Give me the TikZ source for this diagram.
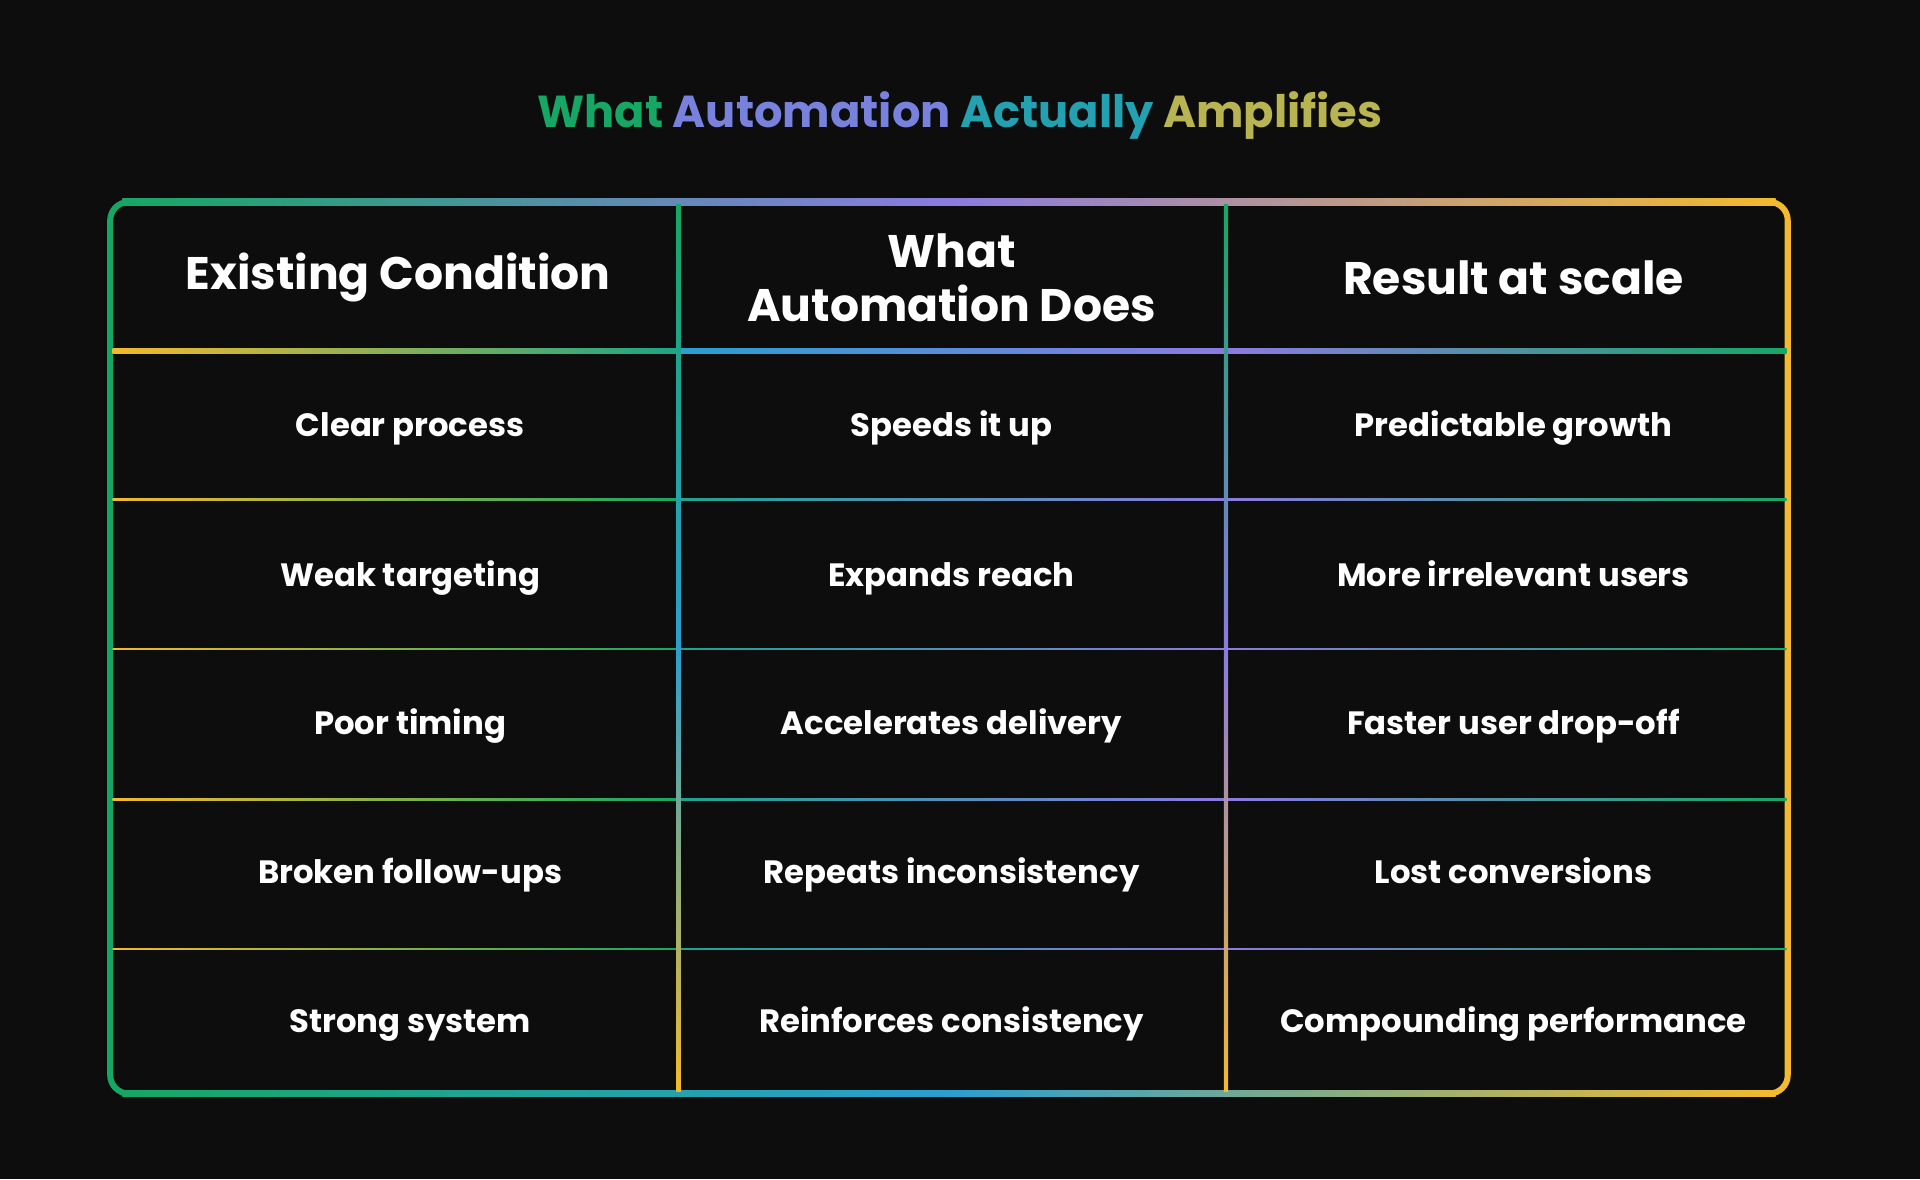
\documentclass[tikz,border=0pt]{standalone}
\usepackage{fontspec}
\setmainfont{Poppins}
\usetikzlibrary{positioning}
\definecolor{bg}{HTML}{0D0D0D}
\definecolor{cgreen}{HTML}{16A765}
\definecolor{cpurple}{HTML}{8B7BE0}
\definecolor{cblue}{HTML}{2A9FD0}
\definecolor{cgold}{HTML}{F2BA2C}
\definecolor{colive}{HTML}{8FB06A}
\tikzset{
  cell/.style={text=white, font=\fontsize{7.5}{9}\selectfont\bfseries, align=center,
    text height=1.45ex, text depth=0.35ex},
  head/.style={text=white, font=\fontsize{10.6}{12.5}\selectfont\bfseries, align=center},
  ttl/.style={font=\fontsize{10.4}{13}\selectfont\bfseries, inner sep=0pt},
}
% thin shaded bar: \gbar{x1}{y1}{x2}{y2}{shading options}
\newcommand{\gbar}[5]{\shade[#5] (#1,#2) rectangle (#3,#4);}
\begin{document}
\begin{tikzpicture}[x=0.01cm,y=-0.01cm]
  \useasboundingbox (0,0) rectangle (1568,963);
  \fill[bg] (0,0) rectangle (1568,963);
  % title
  \node[ttl] (title) at (784,94) {\textcolor{cgreen}{What} \textcolor{cpurple!80!cblue}{Automation} \textcolor{cblue!70!cgreen}{Actually} \textcolor{colive!60!cgold}{Amplifies}};
  % outer frame
  \gbar{100}{162.5}{1450}{167.5}{left color=cgreen, right color=cgold, middle color=cpurple}
  \gbar{100}{890.5}{1450}{895.5}{left color=cgreen, right color=cgold, middle color=cblue}
  \draw[cgreen, line width=1.4pt, rounded corners=0.15cm] (102,165) -- (90,165) -- (90,893) -- (102,893);
  \draw[cgold, line width=1.4pt, rounded corners=0.15cm] (1448,165) -- (1460,165) -- (1460,893) -- (1448,893);
  % header rule
  \gbar{92}{285}{554}{289}{left color=cgold, right color=cgreen!70!cblue}
  \gbar{554}{285}{1001}{289}{left color=cblue, right color=cpurple}
  \gbar{1001}{285}{1459}{289}{left color=cpurple, right color=cgreen}
  % row rules
  \foreach \y in {408,530,653,775}{
    \gbar{92}{\y-0.6}{554}{\y+0.6}{left color=cgold, right color=cgreen}
    \gbar{554}{\y-0.6}{1001}{\y+0.6}{left color=cgreen!60!cblue, right color=cpurple}
    \gbar{1001}{\y-0.6}{1459}{\y+0.6}{left color=cpurple, right color=cgreen}
  }
  % column rules
  \gbar{552.5}{167}{556}{891}{top color=cgreen, bottom color=cgold, middle color=cblue}
  \gbar{999.5}{167}{1003}{891}{top color=cgreen, bottom color=cgold, middle color=cpurple}
  % header
  \node[head] (h1) at (325,227) {Existing Condition};
  \node[head] (h2) at (777,227) {What\\Automation Does};
  \node[head] (h3) at (1236,227) {Result at scale};
  % rows
  \foreach \i/\y/\a/\b/\c in {
    1/346/Clear process/Speeds it up/Predictable growth,
    2/468/Weak targeting/Expands reach/More irrelevant users,
    3/589/Poor timing/Accelerates delivery/Faster user drop-off,
    4/711/Broken follow-ups/Repeats inconsistency/Lost conversions,
    5/833/Strong system/Reinforces consistency/Compounding performance}{
    \node[cell] (a\i) at (335,\y) {\a};
    \node[cell] (b\i) at (777,\y) {\b};
    \node[cell] (c\i) at (1236,\y) {\c};
  }
\end{tikzpicture}
\end{document}
